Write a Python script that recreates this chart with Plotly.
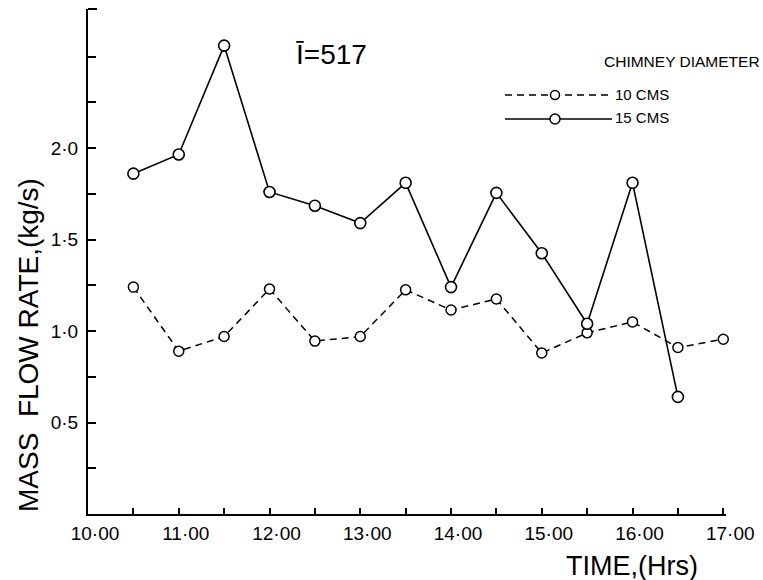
import plotly.graph_objects as go

# ---- data ----
times_10cm = ["10:30", "11:00", "11:30", "12:00", "12:30", "13:00", "13:30",
              "14:00", "14:30", "15:00", "15:30", "16:00", "16:30", "17:00"]
flow_10cm = [1.24, 0.89, 0.97, 1.23, 0.945, 0.97, 1.225,
             1.115, 1.175, 0.88, 0.99, 1.05, 0.91, 0.955]

times_15cm = ["10:30", "11:00", "11:30", "12:00", "12:30", "13:00", "13:30",
              "14:00", "14:30", "15:00", "15:30", "16:00", "16:30"]
flow_15cm = [1.86, 1.965, 2.56, 1.76, 1.685, 1.59, 1.81,
             1.24, 1.755, 1.425, 1.04, 1.81, 0.64]

hour_labels = ["10·00", "11·00", "12·00", "13·00", "14·00", "15·00", "16·00", "17·00"]
y_labels = {0.5: "0·5", 1.0: "1·0", 1.5: "1·5", 2.0: "2·0"}


def to_hours(t):
    h, m = t.split(":")
    return int(h) + int(m) / 60.0


x10 = [to_hours(t) for t in times_10cm]
x15 = [to_hours(t) for t in times_15cm]

# ---- layout geometry (pixels) ----
W, H = 763, 580
L, R, T, B = 88, 37, 9, 66
PW, PH = W - L - R, H - T - B


def px(xp):
    return (xp - L) / PW


def py(yp):
    return (H - B - yp) / PH


FONT = "Liberation Sans, Arial, sans-serif"

fig = go.Figure()
fig.add_trace(go.Scatter(
    x=x10, y=flow_10cm, mode="lines+markers", name="10 CMS",
    line=dict(color="black", width=1.5, dash="7px,5px"),
    marker=dict(symbol="circle", size=10, color="white",
                line=dict(color="black", width=1.5)),
    cliponaxis=False,
))
fig.add_trace(go.Scatter(
    x=x15, y=flow_15cm, mode="lines+markers", name="15 CMS",
    line=dict(color="black", width=1.6),
    marker=dict(symbol="circle", size=11, color="white",
                line=dict(color="black", width=1.6)),
    cliponaxis=False,
))

tickvals_x = [10 + 0.5 * i for i in range(15)]
ticktext_x = [hour_labels[i // 2] if i % 2 == 0 else "" for i in range(15)]
tickvals_y = [0.25 * i for i in range(1, 11)]
ticktext_y = [y_labels.get(v, "") for v in tickvals_y]

fig.update_layout(
    width=W, height=H, autosize=False,
    margin=dict(l=L, r=R, t=T, b=B),
    paper_bgcolor="white", plot_bgcolor="white",
    showlegend=False,
    font=dict(family=FONT, color="black"),
    xaxis=dict(
        range=[10, 17.03], tickmode="array", tickvals=tickvals_x, ticktext=ticktext_x,
        ticks="inside", ticklen=6, tickwidth=1.5, tickcolor="black",
        showline=True, linewidth=2, linecolor="black",
        showgrid=False, zeroline=False,
        tickfont=dict(size=19, family=FONT), ticklabelshift=7, ticklabelstandoff=1,
    ),
    yaxis=dict(
        range=[0, 2.76], tickmode="array", tickvals=tickvals_y, ticktext=ticktext_y,
        ticks="inside", ticklen=8, tickwidth=1.5, tickcolor="black",
        showline=True, linewidth=2, linecolor="black",
        showgrid=False, zeroline=False,
        tickfont=dict(size=19, family=FONT), ticklabelstandoff=4,
    ),
)

# serif at the top of the y axis
fig.add_shape(type="line", xref="paper", yref="paper",
              x0=0, x1=px(97), y0=1, y1=1, line=dict(color="black", width=2))

# legend drawn by hand
leg = [("10 CMS", 95, "7px,5px", 9), ("15 CMS", 119, "solid", 10)]
for name, yy, dash, msz in leg:
    fig.add_shape(type="line", xref="paper", yref="paper",
                  x0=px(505), x1=px(612), y0=py(yy), y1=py(yy),
                  line=dict(color="black", width=1.5, dash=dash))
    fig.add_shape(type="circle", xref="paper", yref="paper",
                  xsizemode="pixel", ysizemode="pixel",
                  xanchor=px(555), yanchor=py(yy),
                  x0=-msz / 2, x1=msz / 2, y0=-msz / 2, y1=msz / 2,
                  fillcolor="white", line=dict(color="black", width=1.5))
    fig.add_annotation(text=name, xref="paper", yref="paper",
                       x=px(613), y=py(yy - 1), xanchor="left", yanchor="middle",
                       showarrow=False, font=dict(size=15, family=FONT))

fig.add_annotation(text="CHIMNEY DIAMETER", xref="paper", yref="paper",
                   x=px(602), y=py(62), xanchor="left", yanchor="middle",
                   showarrow=False, font=dict(size=15.5, family=FONT))

fig.add_annotation(text="Ī=517", xref="paper", yref="paper",
                   x=px(331), y=py(55), xanchor="center", yanchor="middle",
                   showarrow=False, font=dict(size=28, family=FONT))

fig.add_annotation(text="MASS  FLOW RATE,(kg/s)", xref="paper", yref="paper",
                   x=px(29), y=py(345), xanchor="center", yanchor="middle",
                   textangle=-90, showarrow=False, font=dict(size=28, family=FONT))

fig.add_annotation(text="TIME,(Hrs)", xref="paper", yref="paper",
                   x=px(632), y=py(566), xanchor="center", yanchor="middle",
                   showarrow=False, font=dict(size=27, family=FONT))

fig.write_html("out.html")
